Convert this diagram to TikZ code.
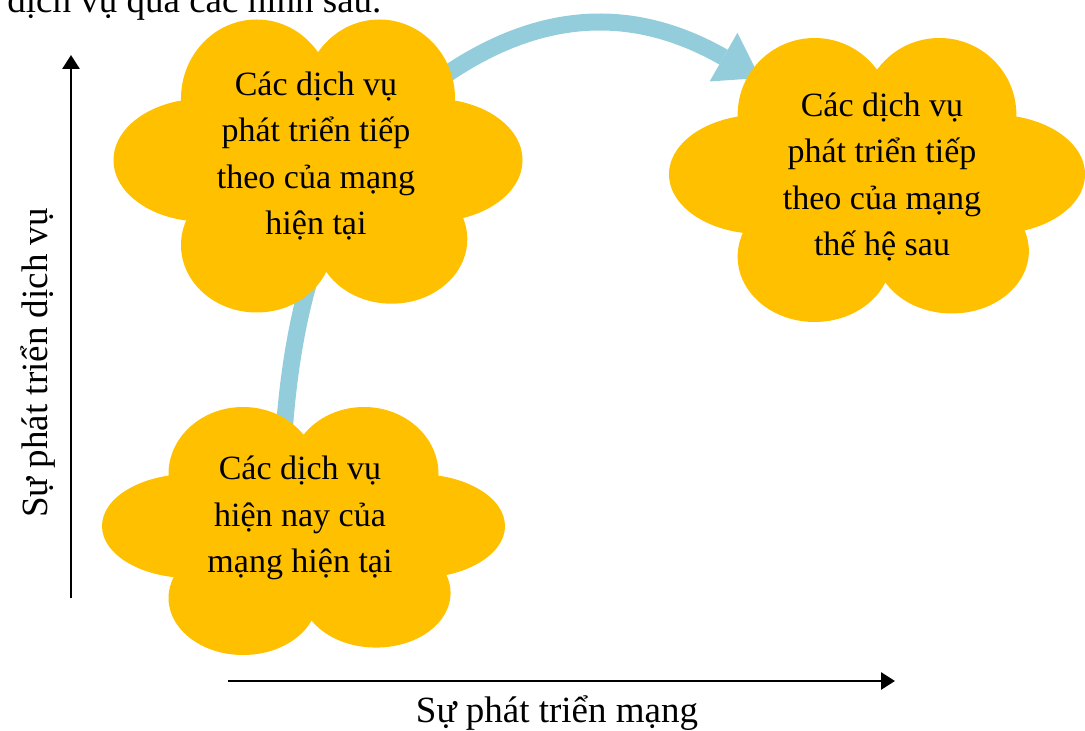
\documentclass[tikz,border=0pt]{standalone}
\usepackage{fontspec}
\setmainfont{Liberation Serif}
\usetikzlibrary{arrows.meta}
\definecolor{petalgold}{HTML}{FFC000}
\definecolor{trendblue}{HTML}{93CDDC}
\tikzset{
  petal/.style={fill=petalgold},
  pics/flower/.style args={#1/#2}{code={
    \begin{scope}[xscale=#1,yscale=#2]
      \fill[petal] (-0.30,-0.46) ellipse (0.37 and 0.54)
                   (0.30,-0.46) ellipse (0.37 and 0.54)
                   (-0.56,-0.04) ellipse (0.44 and 0.42)
                   (0.56,-0.04) ellipse (0.44 and 0.42)
                   (-0.30,0.54) ellipse (0.37 and 0.46)
                   (0.36,0.50) ellipse (0.37 and 0.44)
                   (0,0.04) ellipse (0.6 and 0.55);
    \end{scope}}},
  cloudtext/.style={align=center,inner sep=0pt,font=\fontsize{17}{23.25}\selectfont},
  axistext/.style={inner sep=0pt,font=\fontsize{18.5}{22}\selectfont},
  axisline/.style={-{Triangle[length=7pt,width=8.5pt]},line width=1.4pt},
  trend/.style={draw=trendblue,line width=8.5pt,-{Triangle[length=21pt,width=28pt,line width=0pt]}},
}
\begin{document}
\begin{tikzpicture}[x=0.5pt,y=-0.5pt]
  \useasboundingbox (0,0) rectangle (1085,731);
  \node[axistext,anchor=base west] (lead) at (7,13) {dịch vụ qua các hình sau.};

  \coordinate (trendstart) at (283,450);
  \coordinate (trendbend) at (453,70);
  \coordinate (trendend) at (760,78);
  \draw[trend] (trendstart) .. controls (291,300) and (330,150) .. (trendbend)
    .. controls (544,11) and (634,6) .. (trendend);

  \pic at (318,166) {flower=204.5/146.5};
  \pic at (877,180) {flower=208/142};
  \pic at (303.5,531) {flower=201.5/124};

  \node[cloudtext] (nextnow) at (316,156) {Các dịch vụ\\phát triển tiếp\\theo của mạng\\hiện tại};
  \node[cloudtext] (nextgen) at (882,177) {Các dịch vụ\\phát triển tiếp\\theo của mạng\\thế hệ sau};
  \node[cloudtext] (now) at (300,518) {Các dịch vụ\\hiện nay của\\mạng hiện tại};

  \coordinate (vbottom) at (71,598);
  \coordinate (vtop) at (71,55);
  \coordinate (hleft) at (228,681);
  \coordinate (hright) at (895,681);
  \draw[axisline] (vbottom) -- (vtop);
  \draw[axisline] (hleft) -- (hright);
  \node[axistext,rotate=90,anchor=base] (servicelbl) at (47,363) {Sự phát triển dịch vụ};
  \node[axistext,anchor=base] (networklbl) at (557,722) {Sự phát triển mạng};
\end{tikzpicture}
\end{document}
